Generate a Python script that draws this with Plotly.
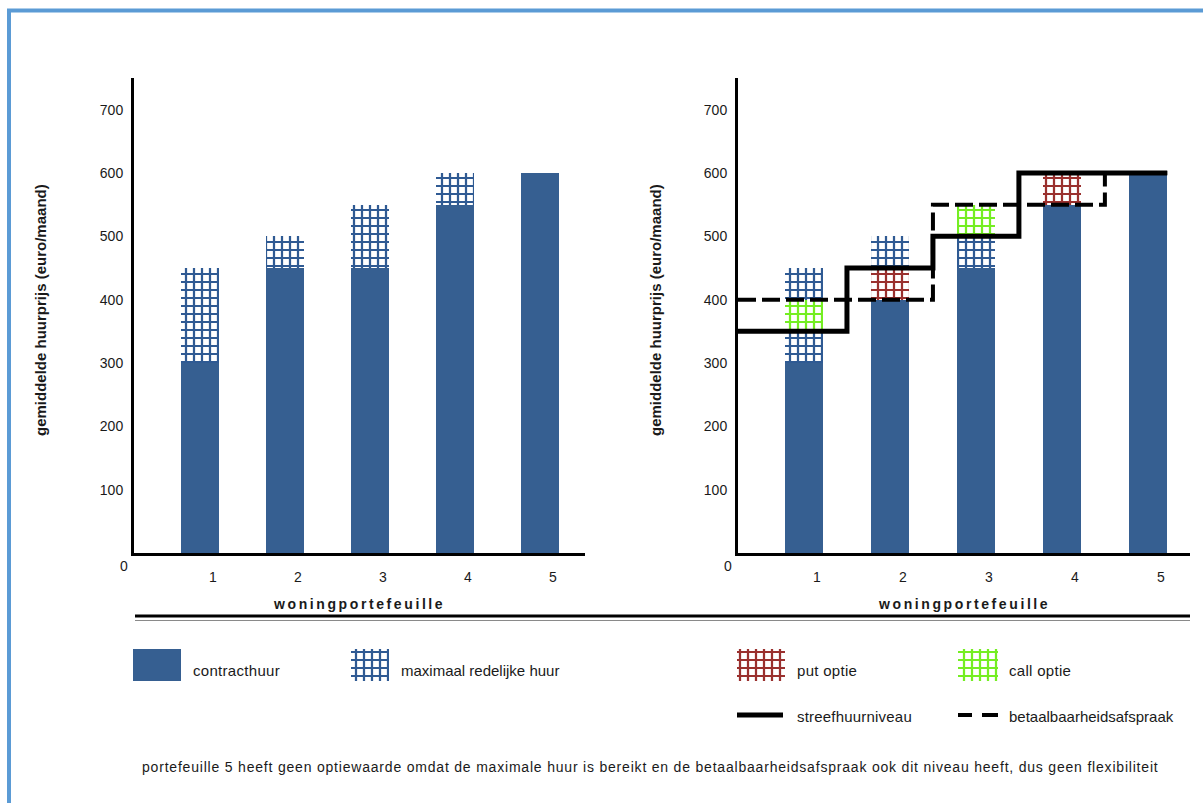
import plotly.graph_objects as go

# ---- data -------------------------------------------------------------
portefeuille = [1, 2, 3, 4, 5]

# left panel
contracthuur_l = [300, 450, 450, 550, 600]
max_redelijk_l = [450, 500, 550, 600, 600]

# right panel
contracthuur_r = [300, 400, 450, 550, 600]
max_redelijk_r = [450, 500, 550, 600, 600]
call_laag = [350, None, 500, None, None]
call_hoog = [400, None, 550, None, None]
put_laag = [None, 400, None, 550, None]
put_hoog = [None, 450, None, 600, None]
streefhuur = [350, 450, 500, 600, 600]
afspraak = [400, 400, 550, 550, 600]

y_ticks = [100, 200, 300, 400, 500, 600, 700]

# ---- styling ----------------------------------------------------------
W, H = 1203, 803
BLUE = "#365F91"
GRID_BLUE = "#2F5A93"
RED = "#9A302E"
GREEN = "#74EE22"
FONT = "Liberation Sans, Arial, sans-serif"
TXT = "#1a1a1a"


def pattern(fg):
    return dict(shape="+", fgcolor=fg, bgcolor="white", fgopacity=1, size=8, solidity=0.48)


fig = go.Figure()

BAR_W = 0.45


def add_panel(xa, ya, contract, maxh):
    # pattern: maximaal redelijke huur boven contracthuur
    fig.add_trace(go.Bar(
        x=portefeuille, y=[m - c for m, c in zip(maxh, contract)], base=contract,
        width=BAR_W, xaxis=xa, yaxis=ya,
        marker=dict(color="white", line=dict(width=0), pattern=pattern(GRID_BLUE)),
        showlegend=False, hoverinfo="skip"))
    fig.add_trace(go.Bar(
        x=portefeuille, y=contract, width=BAR_W, xaxis=xa, yaxis=ya,
        marker=dict(color=BLUE, line=dict(width=0)),
        showlegend=False, hoverinfo="skip"))


add_panel("x", "y", contracthuur_l, max_redelijk_l)
add_panel("x2", "y2", contracthuur_r, max_redelijk_r)


def option_bars(low, high, fg):
    xs, bs, hs = [], [], []
    for p, lo, hi in zip(portefeuille, low, high):
        if lo is not None:
            xs.append(p)
            bs.append(lo)
            hs.append(hi - lo)
    fig.add_trace(go.Bar(
        x=xs, y=hs, base=bs, width=BAR_W, xaxis="x2", yaxis="y2",
        marker=dict(color="white", line=dict(width=0), pattern=pattern(fg)),
        showlegend=False, hoverinfo="skip"))


option_bars(call_laag, call_hoog, GREEN)
option_bars(put_laag, put_hoog, RED)

# x ranges of the two panels (category units)
XL_RANGE = [0.2235, 5.53]
XR_RANGE = [0.2326, 5.49]


def step_xy(levels):
    xs = [XR_RANGE[0]] + [p + 0.5 for p in portefeuille[:-1]] + [portefeuille[-1] + BAR_W / 2]
    ys = list(levels) + [levels[-1]]
    return xs, ys


sx, sy = step_xy(afspraak)
fig.add_trace(go.Scatter(
    x=sx, y=sy, mode="lines", line=dict(color="black", width=4, dash="18px,6px", shape="hv"),
    xaxis="x2", yaxis="y2", showlegend=False, hoverinfo="skip", cliponaxis=False))
sx, sy = step_xy(streefhuur)
fig.add_trace(go.Scatter(
    x=sx, y=sy, mode="lines", line=dict(color="black", width=5, shape="hv"),
    xaxis="x2", yaxis="y2", showlegend=False, hoverinfo="skip", cliponaxis=False))

# ---- legend swatches (pixel coordinate overlay) -----------------------
def swatch(x0, x1, y0, y1, color, pat=None):
    fig.add_trace(go.Bar(
        x=[(x0 + x1) / 2], y=[y1 - y0], base=[y0], width=[x1 - x0],
        xaxis="x3", yaxis="y3",
        marker=dict(color=color if pat is None else "white", line=dict(width=0),
                    pattern=pat if pat is not None else dict(shape="")),
        showlegend=False, hoverinfo="skip"))


swatch(133, 181, 649, 681, BLUE)
swatch(351, 389, 649, 681, "white", pattern(GRID_BLUE))
swatch(737, 785, 649, 681, "white", pattern(RED))
swatch(958, 998, 649, 681, "white", pattern(GREEN))

shapes = []
# frame
shapes.append(dict(type="line", xref="x3", yref="y3", x0=7, x1=W, y0=10.5, y1=10.5,
                   line=dict(color="#5B9BD5", width=4)))
shapes.append(dict(type="line", xref="x3", yref="y3", x0=9, x1=9, y0=9, y1=H,
                   line=dict(color="#5B9BD5", width=4)))
# double rule under the axes
shapes.append(dict(type="line", xref="x3", yref="y3", x0=135, x1=1190, y0=616, y1=616,
                   line=dict(color="black", width=3)))
shapes.append(dict(type="line", xref="x3", yref="y3", x0=135, x1=1190, y0=620.5, y1=620.5,
                   line=dict(color="#8a8a8a", width=1)))
# line legend swatches
shapes.append(dict(type="line", xref="x3", yref="y3", x0=737, x1=783, y0=715, y1=715,
                   line=dict(color="black", width=5)))
for a, b in [(958, 972), (982, 998)]:
    shapes.append(dict(type="line", xref="x3", yref="y3", x0=a, x1=b, y0=715, y1=715,
                       line=dict(color="black", width=4)))

ann = []


def text(x, y, s, size=14, xanchor="left", bold=False, angle=0, spacing=0.0):
    if spacing:
        s = f"<span style='letter-spacing:{spacing}px'>{s}</span>"
    if bold:
        s = f"<b>{s}</b>"
    ann.append(dict(xref="x3", yref="y3", x=x, y=y, text=s,
                    showarrow=False, xanchor=xanchor, yanchor="middle", textangle=angle,
                    font=dict(family=FONT, size=size, color=TXT)))


text(191, 670, "contracthuur", size=15, spacing=0.3)
text(399, 670, "maximaal redelijke huur", size=15)
text(795, 670, "put optie", size=15, spacing=0.3)
text(1007, 670, "call optie", size=15, spacing=0.3)
text(795, 716, "streefhuurniveau", size=15, spacing=0.2)
text(1007, 716, "betaalbaarheidsafspraak", size=15)
text(140, 767, "portefeuille 5 heeft geen optiewaarde omdat de maximale huur is bereikt "
               "en de betaalbaarheidsafspraak ook dit niveau heeft, dus geen flexibiliteit",
     size=14, spacing=0.8)

for cx, ax_x in [(359, 124), (964, 728)]:
    text(cx, 604, "woningportefeuille", size=14, xanchor="center", bold=True, spacing=2.6)
    text(ax_x, 566, "0", xanchor="center")

text(40, 310, "gemiddelde huurprijs (euro/maand)", size=15, xanchor="center", bold=True, angle=-90)
text(655, 310, "gemiddelde huurprijs (euro/maand)", size=15, xanchor="center", bold=True, angle=-90)

# ---- axes -------------------------------------------------------------
y_dom = [1 - 553 / H, 1 - 78 / H]
axis_common = dict(showgrid=False, zeroline=False, showline=True, linecolor="black",
                   linewidth=3, ticks="", tickfont=dict(family=FONT, size=14, color=TXT),
                   fixedrange=True)

fig.update_layout(
    width=W, height=H, margin=dict(l=0, r=0, t=0, b=0),
    paper_bgcolor="white", plot_bgcolor="rgba(0,0,0,0)",
    barmode="overlay", bargap=0, showlegend=False,
    xaxis=dict(domain=[134 / W, 585 / W], range=XL_RANGE, anchor="y",
               tickvals=portefeuille, ticklabelshift=13, ticklabelstandoff=9, **axis_common),
    yaxis=dict(domain=y_dom, range=[0, 750], anchor="x", tickvals=y_ticks,
               ticklabelstandoff=5, **axis_common),
    xaxis2=dict(domain=[738 / W, 1190 / W], range=XR_RANGE, anchor="y2",
                tickvals=portefeuille, ticklabelshift=13, ticklabelstandoff=9, **axis_common),
    yaxis2=dict(domain=y_dom, range=[0, 750], anchor="x2", tickvals=y_ticks,
                ticklabelstandoff=5, **axis_common),
    xaxis3=dict(domain=[0, 1], range=[0, W], anchor="y3", visible=False, fixedrange=True),
    yaxis3=dict(domain=[0, 1], range=[H, 0], anchor="x3", visible=False, fixedrange=True),
    shapes=shapes, annotations=ann, hovermode=False,
)

fig.write_html("out.html", config={"displayModeBar": False, "staticPlot": True})
